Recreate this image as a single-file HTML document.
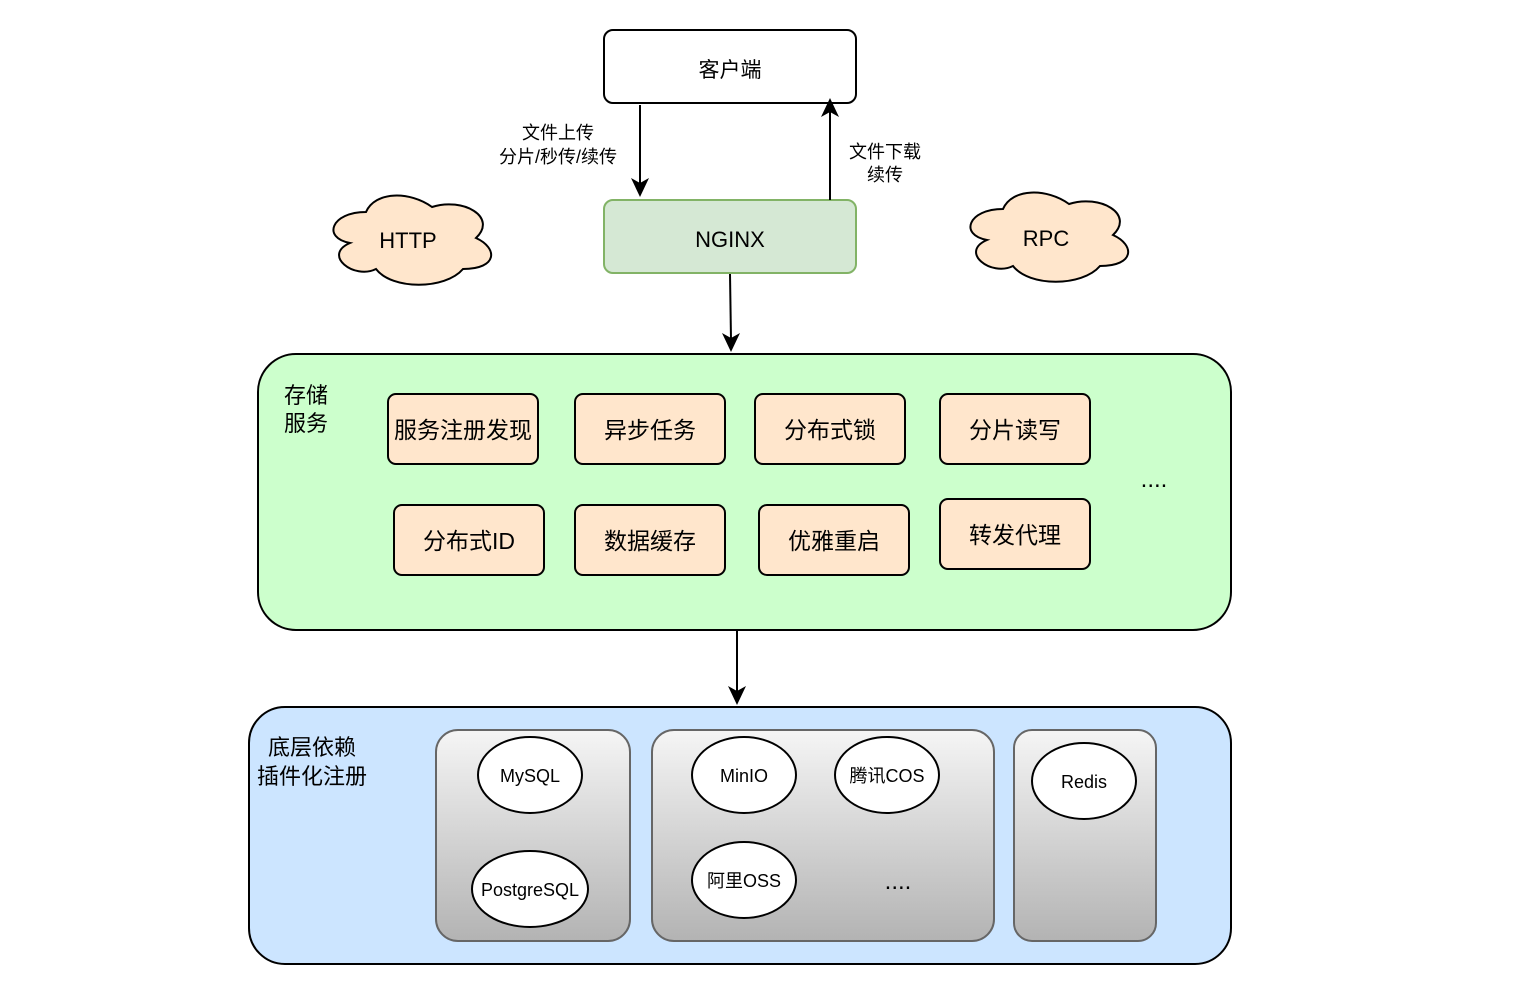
<!DOCTYPE html>
<html><head><meta charset="utf-8"><style>
html,body{margin:0;padding:0;background:#fff}
svg{display:block}
text{font-family:"Liberation Sans","Noto Sans CJK SC",sans-serif;fill:#000}
</style></head><body>
<svg width="1530" height="993" viewBox="0 0 1530 993" xmlns="http://www.w3.org/2000/svg">
<defs>
<linearGradient id="g" x1="0" y1="0" x2="0" y2="1"><stop offset="0" stop-color="#f5f5f5"/><stop offset="1" stop-color="#b3b3b3"/></linearGradient>
</defs>

<!-- client -->
<rect x="604" y="30" width="252" height="73" rx="9" fill="#fff" stroke="#000" stroke-width="2"/>
<text x="730" y="77" font-size="21" text-anchor="middle">客户端</text>

<!-- nginx -->
<rect x="604" y="200" width="252" height="73" rx="9" fill="#d5e8d4" stroke="#82b366" stroke-width="2"/>
<text x="730" y="247" font-size="22" text-anchor="middle">NGINX</text>

<line x1="640" y1="105" x2="640" y2="188" stroke="#000" stroke-width="2"/>
<path d="M640,197 L631,178 L640,183 L649,178 Z" fill="#000"/>
<line x1="830" y1="200" x2="830" y2="110" stroke="#000" stroke-width="2"/>
<path d="M830,98 L839,117 L830,112 L821,117 Z" fill="#000"/>
<text x="558" y="139" font-size="18" text-anchor="middle">文件上传</text>
<text x="558" y="163" font-size="18" text-anchor="middle">分片/秒传/续传</text>
<text x="885" y="158" font-size="18" text-anchor="middle">文件下载</text>
<text x="885" y="181" font-size="18" text-anchor="middle">续传</text>

<!-- clouds -->
<path d="M366,212 C331,212 322,238 350,243 C322,255 354,280 376,269 C392,290 445,290 463,269 C498,269 498,248 476,238 C498,217 463,197 432,207 C410,191 375,191 366,212 Z" fill="#ffe6cc" stroke="#000" stroke-width="2"/>
<text x="408" y="248" font-size="22" text-anchor="middle">HTTP</text>
<path d="M1003,209 C968,209 959,235 987,240 C959,252 991,277 1013,266 C1029,287 1082,287 1100,266 C1135,266 1135,245 1113,235 C1135,214 1100,194 1069,204 C1047,188 1012,188 1003,209 Z" fill="#ffe6cc" stroke="#000" stroke-width="2"/>
<text x="1046" y="246" font-size="22" text-anchor="middle">RPC</text>

<line x1="730" y1="274" x2="731" y2="340" stroke="#000" stroke-width="2"/>
<path d="M731,352 L722,333 L731,338 L740,333 Z" fill="#000"/>

<!-- storage -->
<rect x="258" y="354" width="973" height="276" rx="38" fill="#ccffcc" stroke="#000" stroke-width="2"/>
<text x="284" y="403" font-size="22">存储</text>
<text x="284" y="431" font-size="22">服务</text>
<g font-size="23" text-anchor="middle">
<rect x="388" y="394" width="150" height="70" rx="8" fill="#ffe6cc" stroke="#000" stroke-width="2"/><text x="463" y="438">服务注册发现</text>
<rect x="575" y="394" width="150" height="70" rx="8" fill="#ffe6cc" stroke="#000" stroke-width="2"/><text x="650" y="438">异步任务</text>
<rect x="755" y="394" width="150" height="70" rx="8" fill="#ffe6cc" stroke="#000" stroke-width="2"/><text x="830" y="438">分布式锁</text>
<rect x="940" y="394" width="150" height="70" rx="8" fill="#ffe6cc" stroke="#000" stroke-width="2"/><text x="1015" y="438">分片读写</text>
<rect x="394" y="505" width="150" height="70" rx="8" fill="#ffe6cc" stroke="#000" stroke-width="2"/><text x="469" y="549">分布式ID</text>
<rect x="575" y="505" width="150" height="70" rx="8" fill="#ffe6cc" stroke="#000" stroke-width="2"/><text x="650" y="549">数据缓存</text>
<rect x="759" y="505" width="150" height="70" rx="8" fill="#ffe6cc" stroke="#000" stroke-width="2"/><text x="834" y="549">优雅重启</text>
<rect x="940" y="499" width="150" height="70" rx="8" fill="#ffe6cc" stroke="#000" stroke-width="2"/><text x="1015" y="543">转发代理</text>
</g>
<text x="1154" y="487" font-size="24" text-anchor="middle">....</text>

<line x1="737" y1="631" x2="737" y2="693" stroke="#000" stroke-width="2"/>
<path d="M737,705 L728,686 L737,691 L746,686 Z" fill="#000"/>

<!-- deps -->
<rect x="249" y="707" width="982" height="257" rx="36" fill="#cce5ff" stroke="#000" stroke-width="2"/>
<text x="312" y="755" font-size="22" text-anchor="middle">底层依赖</text>
<text x="312" y="784" font-size="22" text-anchor="middle">插件化注册</text>

<rect x="436" y="730" width="194" height="211" rx="22" fill="url(#g)" stroke="#666" stroke-width="2"/>
<rect x="652" y="730" width="342" height="211" rx="22" fill="url(#g)" stroke="#666" stroke-width="2"/>
<rect x="1014" y="730" width="142" height="211" rx="18" fill="url(#g)" stroke="#666" stroke-width="2"/>

<g font-size="18" text-anchor="middle" stroke-width="2">
<ellipse cx="530" cy="775" rx="52" ry="38" fill="#fff" stroke="#000"/><text x="530" y="782">MySQL</text>
<ellipse cx="530" cy="889" rx="58" ry="38" fill="#fff" stroke="#000"/><text x="530" y="896">PostgreSQL</text>
<ellipse cx="744" cy="775" rx="52" ry="38" fill="#fff" stroke="#000"/><text x="744" y="782">MinIO</text>
<ellipse cx="887" cy="775" rx="52" ry="38" fill="#fff" stroke="#000"/><text x="887" y="782">腾讯COS</text>
<ellipse cx="744" cy="880" rx="52" ry="38" fill="#fff" stroke="#000"/><text x="744" y="887">阿里OSS</text>
<ellipse cx="1084" cy="781" rx="52" ry="38" fill="#fff" stroke="#000"/><text x="1084" y="788">Redis</text>
</g>
<text x="898" y="889" font-size="24" text-anchor="middle">....</text>
</svg>
</body></html>
